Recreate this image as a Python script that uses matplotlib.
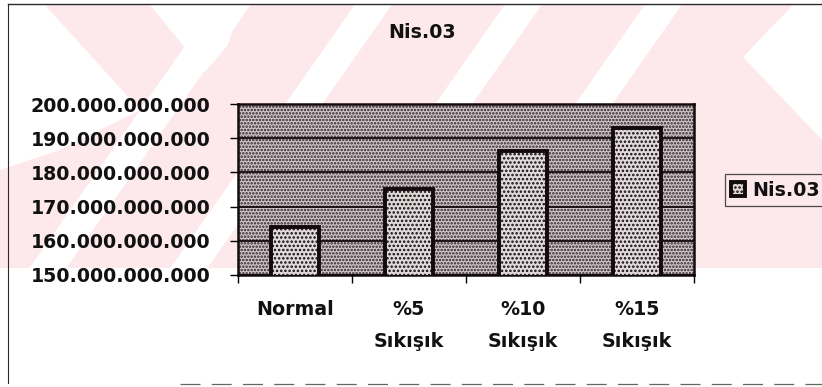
import matplotlib.pyplot as plt
from matplotlib.patches import Polygon, Rectangle
from matplotlib.lines import Line2D

# veriler
kategoriler = ["Normal", "%5\nSıkışık", "%10\nSıkışık", "%15\nSıkışık"]
degerler = [164.1e9, 175.2e9, 186.3e9, 192.9e9]
seri_adi = "Nis.03"
baslik = "Nis.03"
y_ticks = [150e9, 160e9, 170e9, 180e9, 190e9, 200e9]

W, H = 822, 387
FONT = dict(family="DejaVu Sans", weight="bold", size=13.7)
YAZI = "#111111"

fig = plt.figure(figsize=(W / 100, H / 100), dpi=100)
fig.patch.set_facecolor("white")


def px(x, y):
    # piksel (sol-üst) -> figür koordinatı
    return (x / W, 1 - y / H)


def poly(points, color):
    fig.patches.append(Polygon([px(x, y) for x, y in points], closed=True,
                               transform=fig.transFigure, facecolor=color,
                               edgecolor="none", zorder=-5))


# arka plandaki soluk filigran
pembe = "#fde8ec"
poly([(0, 5), (822, 5), (822, 268), (0, 268)], pembe)
for c in [160, 301, 451, 591]:
    ust = c + 0.7 * (108 - 5)
    alt = c + 0.7 * (108 - 268)
    poly([(ust - 18.5, 5), (ust + 18.5, 5), (alt + 18.5, 268), (alt - 18.5, 268)], "white")
poly([(0, 5), (45, 5), (140, 110), (60, 150), (0, 170)], "white")
poly([(150, 5), (240, 5), (228, 45), (205, 72)], "white")
poly([(793, 5), (743, 57), (822, 140), (822, 5)], "white")

# grafik alanı çerçevesi
cerceve = "#2a2a2a"
fig.lines.append(Line2D([px(8, 4)[0], 1], [px(8, 4)[1]] * 2, transform=fig.transFigure,
                        color=cerceve, lw=1.0))
fig.lines.append(Line2D([px(8, 4)[0]] * 2, [px(8, 4)[1], px(8, 383)[1]],
                        transform=fig.transFigure, color=cerceve, lw=0.8))
fig.lines.append(Line2D([px(180, 384)[0], 1], [px(180, 384)[1]] * 2,
                        transform=fig.transFigure, color="#666666", lw=0.9,
                        linestyle=(0, (16, 9))))

plt.rcParams["hatch.linewidth"] = 1.2

ax = fig.add_axes([238 / W, 1 - 275 / H, 456 / W, 171 / H])
ax.set_facecolor("#cfc5c8")
ax.add_patch(Rectangle((0, 0), 1, 1, transform=ax.transAxes, facecolor="#cfc5c8",
                       edgecolor="#2a2226", hatch=".....", lw=0, zorder=0))

x = list(range(len(kategoriler)))
bars = ax.bar(x, degerler, width=0.42, color="#e2d9db", edgecolor="#120a0c",
              linewidth=2.8, hatch="....", zorder=3, label=seri_adi)

ax.set_xlim(-0.5, 3.5)
ax.set_ylim(150e9, 200e9)
ax.set_yticks(y_ticks)
ax.set_yticklabels([f"{v:,.0f}".replace(",", ".") for v in y_ticks], **FONT, color=YAZI)
ax.yaxis.grid(True, color="#120a0c", lw=1.3, zorder=1)
ax.set_axisbelow(False)
ax.tick_params(axis="y", direction="out", length=6, width=1, pad=14)

ax.set_xticks(x)
ax.set_xticklabels(kategoriler, **FONT, color=YAZI, linespacing=1.85)
ax.set_xticks([-0.5, 0.5, 1.5, 2.5, 3.5], minor=True)
ax.tick_params(axis="x", which="major", length=0, pad=18)
ax.tick_params(axis="x", which="minor", direction="out", length=6, width=1)

for s in ax.spines.values():
    s.set_color("#120a0c")
    s.set_linewidth(1.8)

fig.text(*px(422, 33), baslik, ha="center", va="center", color=YAZI, **FONT)

leg = fig.legend(handles=[bars.patches[0]], labels=[seri_adi], loc="center left",
                 bbox_to_anchor=px(715, 190), frameon=True, fancybox=False,
                 edgecolor="#222222", facecolor="none", borderpad=0.35,
                 handlelength=0.75, handleheight=0.75, handletextpad=0.35,
                 prop=dict(family="DejaVu Sans", weight="bold", size=13.7))
leg.get_frame().set_linewidth(0.9)
for t in leg.get_texts():
    t.set_color(YAZI)

fig.savefig("out.png", dpi=100)
